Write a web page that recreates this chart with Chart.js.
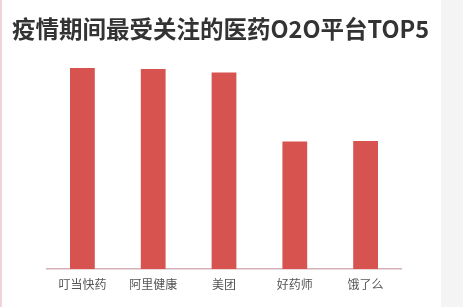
<!DOCTYPE html>
<html>
<head>
<meta charset="utf-8">
<script src="https://cdn.jsdelivr.net/npm/chart.js@4/dist/chart.umd.min.js"></script>
<style>
  html, body { margin: 0; padding: 0; background: #fff; }
  #wrap { width: 463px; height: 307px; position: relative; }
</style>
</head>
<body>
<div id="wrap"><canvas id="c" width="463" height="307"></canvas></div>
<script>
// 疫情期间最受关注的医药O2O平台 — relative attention index
const titleText = '疫情期间最受关注的医药O2O平台TOP5';
const platforms = ['叮当快药', '阿里健康', '美团', '好药师', '饿了么'];
const attention = [100, 99.5, 97.8, 63.5, 63.7];

// page frame: white card, pink left rule, grey strip at right, title
const framePlugin = {
    id: 'frame',
    beforeDraw(chart) {
        const ctx = chart.ctx;
        ctx.save();
        ctx.fillStyle = '#ffffff';
        ctx.fillRect(0, 0, chart.width, chart.height);
        ctx.fillStyle = '#f4f4f4';
        ctx.fillRect(441, 0, chart.width - 441, chart.height);
        ctx.fillStyle = '#f2d3d7';
        ctx.fillRect(0, 0, 2, chart.height);
        ctx.restore();
    },
    afterDraw(chart) {
        const ctx = chart.ctx;
        ctx.save();
        ctx.font = 'bold 23.5px "Noto Sans CJK SC", "Noto Sans", sans-serif';
        ctx.fillStyle = '#333333';
        ctx.textBaseline = 'middle';
        ctx.fillText(titleText, 12, 29);
        ctx.restore();
    }
};

new Chart(document.getElementById('c'), {
    type: 'bar',
    data: {
        labels: platforms,
        datasets: [{
            data: attention,
            backgroundColor: '#d65350',
            borderWidth: 0,
            categoryPercentage: 1,
            barPercentage: 0.35
        }]
    },
    options: {
        responsive: false,
        animation: false,
        layout: { padding: { left: 47, right: 62, top: 48, bottom: 7.5 } },
        plugins: {
            legend: { display: false },
            tooltip: { enabled: false }
        },
        scales: {
            x: {
                grid: { display: false, drawTicks: false },
                border: { display: true, color: '#d4b2b7', width: 1.5 },
                ticks: {
                    color: '#555555',
                    padding: 8,
                    font: { size: 12, family: '"Noto Sans CJK SC", sans-serif' }
                }
            },
            y: {
                display: false,
                min: 0,
                max: 110
            }
        }
    },
    plugins: [framePlugin]
});
</script>
</body>
</html>
